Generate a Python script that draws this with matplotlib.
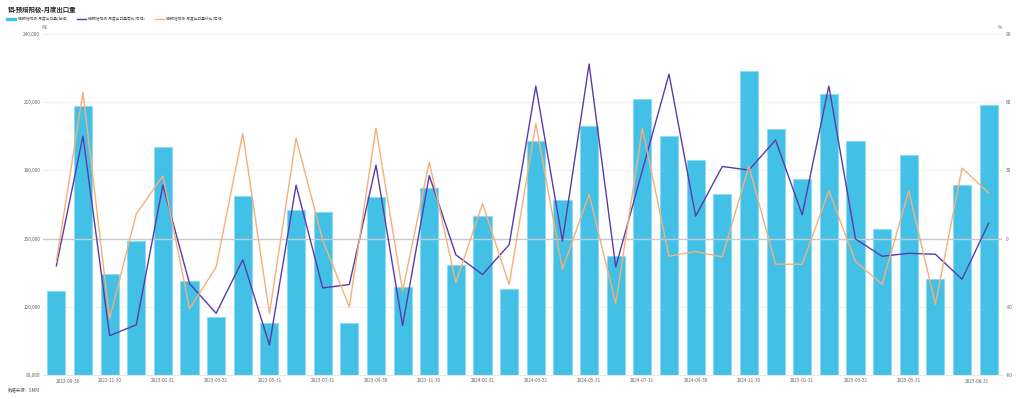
import matplotlib
matplotlib.use('Agg')
import matplotlib.pyplot as plt
from matplotlib.patches import Patch
from matplotlib.lines import Line2D
import numpy as np

plt.rcParams['font.family'] = ['Noto Sans CJK SC', 'DejaVu Sans']

months = ['2022-09-30', '2022-10-31', '2022-11-30', '2022-12-31', '2023-01-31', '2023-02-28',
          '2023-03-31', '2023-04-30', '2023-05-31', '2023-06-30', '2023-07-31', '2023-08-31',
          '2023-09-30', '2023-10-31', '2023-11-30', '2023-12-31', '2024-01-31', '2024-02-29',
          '2024-03-31', '2024-04-30', '2024-05-31', '2024-06-30', '2024-07-31', '2024-08-31',
          '2024-09-30', '2024-10-31', '2024-11-30', '2024-12-31', '2025-01-31', '2025-02-28',
          '2025-03-31', '2025-04-30', '2025-05-31', '2025-06-30', '2025-07-31', '2025-08-31']

export_t = [127100, 208300, 134500, 148900, 190100, 131400, 115500, 168700, 112900, 162600,
            161800, 113200, 168200, 128800, 172200, 138500, 160100, 127900, 192700, 166800,
            199400, 142400, 211400, 195000, 184400, 169600, 223700, 198200, 176300, 213600,
            192700, 154100, 186900, 132500, 173700, 208500]

yoy = [-11.9, 45.0, -42.5, -37.8, 23.5, -19.7, -32.7, -9.2, -46.6, 23.5,
       -21.6, -20.1, 32.3, -38.1, 27.7, -7.1, -15.7, -2.6, 67.0, -1.0,
       76.6, -12.4, 30.0, 72.2, 9.9, 31.7, 30.1, 43.3, 10.5, 67.0,
       -0.1, -7.7, -6.4, -6.8, -17.8, 6.8]

mom = [-10.2, 64.2, -35.1, 10.8, 27.6, -30.7, -12.4, 46.2, -32.9, 44.1,
       -0.7, -29.9, 48.5, -22.9, 33.6, -19.2, 15.4, -20.1, 50.6, -13.4,
       19.5, -28.5, 48.5, -7.7, -5.6, -8.0, 31.8, -11.2, -11.2, 21.0,
       -10.0, -20.0, 21.0, -28.8, 31.0, 20.1]

left_ticks = [90000, 120000, 150000, 180000, 210000, 240000]
right_ticks = [-60, -30, 0, 30, 60, 90]

bar_c = '#42c0e6'
yoy_c = '#5b3ba9'
mom_c = '#f5b07a'
tick_c = '#666666'

fig = plt.figure(figsize=(10.24, 3.99), dpi=100)
ax = fig.add_axes([0.042, 0.0589, 0.9365, 0.857])
ax2 = ax.twinx()

x = np.arange(len(months))
ax.bar(x, [v - 90000 for v in export_t], bottom=90000, width=0.68, color=bar_c,
       edgecolor='#8fdaf2', linewidth=0.8, zorder=2)
ax.set_xlim(-0.5, len(months) - 0.5)
ax.set_ylim(90000, 240000)
ax.set_yticks(left_ticks)
ax.set_yticklabels([f'{v:,}' for v in left_ticks])
for v in left_ticks[1:]:
    ax.axhline(v, color='#f0f0f0', lw=0.8, zorder=0)

ax2.plot(x, yoy, color=yoy_c, lw=1.0, zorder=3)
ax2.plot(x, mom, color=mom_c, lw=1.0, zorder=3)
ax2.set_ylim(-60, 90)
ax2.set_yticks(right_ticks)
ax2.set_yticklabels([str(v) for v in right_ticks])
ax2.axhline(0, color='#c8c8d0', lw=1.0, zorder=1)

for a in (ax, ax2):
    for s in a.spines.values():
        s.set_visible(False)
    a.tick_params(length=0, labelsize=3.4, colors=tick_c, pad=2)
ax2.tick_params(pad=2.5)
ax.spines['bottom'].set_visible(True)
ax.spines['bottom'].set_color('#e6e6e6')

tick_idx = list(range(2, 34, 2))
ax.set_xticks(tick_idx)
ax.set_xticklabels([months[i] for i in tick_idx])
ax.tick_params(axis='x', pad=2)
# end labels aligned to the edges, like the original
ax.text(0, -0.011, months[0], transform=ax.get_xaxis_transform(), ha='left', va='top',
        fontsize=3.4, color=tick_c)
ax.text(len(months) - 1, -0.011, months[-1], transform=ax.get_xaxis_transform(), ha='right',
        va='top', fontsize=3.4, color=tick_c)

fig.text(0.008, 0.975, '铝-预焙阳极-月度出口量', fontsize=4.6, fontweight='bold', color='#222222',
         va='center')
handles = [Patch(facecolor=bar_c, edgecolor=bar_c),
           Line2D([], [], color=yoy_c, lw=1.0),
           Line2D([], [], color=mom_c, lw=1.0)]
labels = ['铝-预焙阳极-月度出口量(左轴)', '铝-预焙阳极-月度出口量同比(右轴)', '铝-预焙阳极-月度出口量环比(右轴)']
fig.legend(handles, labels, loc='center left', bbox_to_anchor=(0.006, 0.952), ncol=3,
           frameon=False, fontsize=2.7, handlelength=2.5, handleheight=0.7,
           columnspacing=2.4, handletextpad=0.5, labelcolor='#555555', borderpad=0,
           borderaxespad=0)
fig.text(0.043, 0.932, '吨', fontsize=3.4, color=tick_c, va='center', ha='center')
fig.text(0.977, 0.932, '%', fontsize=3.4, color=tick_c, va='center', ha='center')
fig.text(0.008, 0.022, '数据来源：SMM', fontsize=3.2, color='#555555', va='center')

fig.savefig('out.png', dpi=100)
